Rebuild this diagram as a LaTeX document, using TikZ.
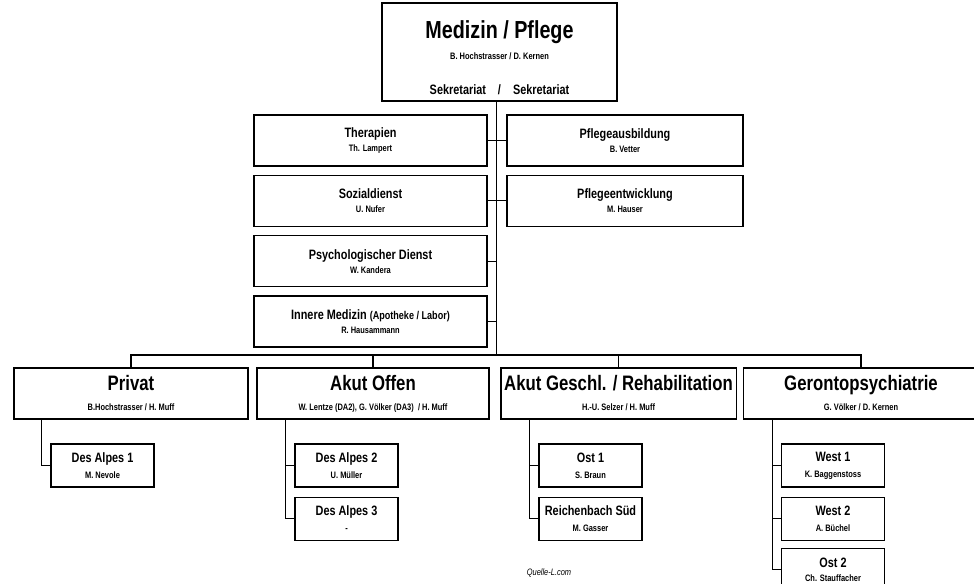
\documentclass[tikz,border=0pt]{standalone}
\usepackage{fontspec}
\setmainfont{Liberation Sans}[FakeStretch=0.8]
\usepackage{tikz}
\usetikzlibrary{positioning}

\newcommand{\hauptfont}{\fontsize{18.5}{20}\selectfont}
\newcommand{\abtfont}{\fontsize{15.7}{17}\selectfont}
\newcommand{\stabfont}{\fontsize{10.2}{12}\selectfont}
\newcommand{\namefont}{\fontsize{7}{8}\selectfont}

\tikzset{
  chef/.style={rectangle, draw=black, line width=1pt, minimum width=176.25pt,
               minimum height=73.5pt, align=center, font=\bfseries, inner sep=2pt},
  stab/.style={rectangle, draw=black, line width=1pt, minimum width=174.75pt,
               minimum height=38.25pt, align=center, font=\bfseries\stabfont, inner sep=2pt},
  abt/.style={rectangle, draw=black, line width=1pt, minimum width=176.5pt,
              minimum height=38.25pt, align=center, font=\bfseries\abtfont, inner sep=2pt},
  station/.style={rectangle, draw=black, line width=1pt, minimum width=77.25pt,
                  minimum height=32.25pt, align=center, font=\bfseries\stabfont, inner sep=2pt},
  link/.style={draw=black, line width=0.9pt},
}

\begin{document}
\begin{tikzpicture}[x=0.75pt, y=-0.75pt, node distance=6pt]
  \clip (0,0) rectangle (974,584);
  \fill[white] (0,0) rectangle (974,584);

  % Leitung
  \node[chef] (chef) at (499.5,52)
    {\rule{0pt}{22pt}{\hauptfont Medizin / Pflege}\\[4pt]
     {\namefont B. Hochstrasser / D. Kernen}\\[14pt]
     {\stabfont Sekretariat\hspace{9pt}/\hspace{9pt}Sekretariat}};

  % Stabsstellen links
  \node[stab] (therapie) at (370.5,140.5) {Therapien\\[-1.5pt]\namefont Th. Lampert};
  \node[stab, below=of therapie] (sozial) {Sozialdienst\\[-1.5pt]\namefont U. Nufer};
  \node[stab, below=of sozial] (psych) {Psychologischer Dienst\\[-1.5pt]\namefont W. Kandera};
  \node[stab, below=of psych] (innere)
    {Innere Medizin {\fontsize{8.5}{10}\selectfont(Apotheke / Labor)}\\[-1.5pt]\namefont R. Hausammann};

  % Stabsstellen rechts
  \node[stab, minimum width=177pt] (ausbildung) at (625,140.5) {Pflegeausbildung\\[-1.5pt]\namefont B. Vetter};
  \node[stab, minimum width=177pt, below=of ausbildung] (entwicklung) {Pflegeentwicklung\\[-1.5pt]\namefont M. Hauser};

  % Abteilungen
  \node[abt, minimum width=175.5pt] (privat) at (131,393.5) {Privat\\[-2pt]\namefont B.Hochstrasser / H. Muff};
  \node[abt, minimum width=174pt] (offen) at (373,393.5)
    {Akut Offen\\[-2pt]\namefont W. Lentze (DA2), G. Völker (DA3) \ / H. Muff};
  \node[abt] (geschl) at (618.5,393.5) {Akut Geschl. / Rehabilitation\\[-2pt]\namefont H.-U. Selzer / H. Muff};
  \node[abt] (geronto) at (861,393.5) {Gerontopsychiatrie\\[-2pt]\namefont G. Völker / D. Kernen};

  % Stationen
  \node[station] (alpes1) at (102.5,465.5) {Des Alpes 1\\\namefont M. Nevole};
  \node[station] (alpes2) at (346.5,465.5) {Des Alpes 2\\\namefont U. Müller};
  \node[station, below=6.75pt of alpes2] (alpes3) {Des Alpes 3\\\namefont -};
  \node[station] (ost1) at (590.5,465.5) {Ost 1\\\namefont S. Braun};
  \node[station, below=6.75pt of ost1] (reichenbach) {Reichenbach Süd\\\namefont M. Gasser};
  \node[station] (west1) at (833,465.5) {West 1\\\namefont K. Baggenstoss};
  \node[station, below=6.75pt of west1] (west2) {West 2\\\namefont A. Büchel};
  \node[station, below=5pt of west2] (ost2) {Ost 2\\[-1pt]\namefont Ch. Stauffacher};

  \node[font=\itshape\namefont] (quelle) at (549,573) {Quelle-L.com};

  % Verbindungen
  \coordinate (bus) at (496.5,355);
  \draw[link] (bus |- chef.south) -- (bus);
  \draw[link] (therapie.east) -- (therapie.east -| bus);
  \draw[link] (sozial.east) -- (sozial.east -| bus);
  \draw[link] (psych.east) -- (psych.east -| bus);
  \draw[link] (innere.east) -- (innere.east -| bus);
  \draw[link] (ausbildung.west) -- (ausbildung.west -| bus);
  \draw[link] (entwicklung.west) -- (entwicklung.west -| bus);

  \draw[link] (privat.north) |- (bus) -| (geronto.north);
  \draw[link] (offen.north) -- (offen.north |- bus);
  \draw[link] (geschl.north) -- (geschl.north |- bus);

  \coordinate (pspine) at ([xshift=-6.5pt]alpes1.west);
  \coordinate (ospine) at ([xshift=-6.5pt]alpes2.west);
  \coordinate (gspine) at ([xshift=-6.5pt]ost1.west);
  \coordinate (wspine) at ([xshift=-6.5pt]west1.west);

  \draw[link] (pspine |- privat.south) |- (alpes1.west);
  \draw[link] (ospine |- offen.south) |- (alpes3.west);
  \draw[link] (ospine |- alpes2.west) -- (alpes2.west);
  \draw[link] (gspine |- geschl.south) |- (reichenbach.west);
  \draw[link] (gspine |- ost1.west) -- (ost1.west);
  \draw[link] (wspine |- geronto.south) |- (ost2.west);
  \draw[link] (wspine |- west1.west) -- (west1.west);
  \draw[link] (wspine |- west2.west) -- (west2.west);
\end{tikzpicture}
\end{document}
